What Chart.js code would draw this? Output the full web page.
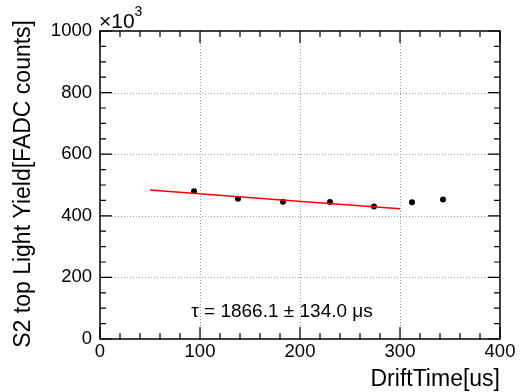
<!DOCTYPE html>
<html>
<head>
<meta charset="utf-8">
<script src="https://cdn.jsdelivr.net/npm/chart.js@4"></script>
<style>
  html, body { margin: 0; padding: 0; background: #fff; }
  #wrap { width: 520px; height: 392px; }
</style>
</head>
<body>
<div id="wrap"><canvas id="c" width="520" height="392"></canvas></div>
<script>
// measured points (DriftTime [us], light yield / 1e3)
const driftTime = [94, 138, 183, 230, 274, 312, 343];
const lightYield = [480, 455, 446, 445, 430, 444, 453];

// exponential fit drawn over 50..300 us
const fitX = [50, 175, 300];
const fitY = [484, 453, 423];

const xTicks = [0, 100, 200, 300, 400];
const yTicks = [0, 200, 400, 600, 800, 1000];
const xMinorStep = 20;
const yMinorStep = 50;

const FONT = '"Liberation Sans", Arial, sans-serif';

const rootFrame = {
    id: 'rootFrame',
    beforeDatasetsDraw(chart) {
        const { ctx, chartArea: a, scales: { x, y } } = chart;
        ctx.save();
        // dotted grid
        ctx.strokeStyle = '#9a9a9a';
        ctx.lineWidth = 1;
        ctx.setLineDash([1, 2]);
        xTicks.slice(1, -1).forEach(v => {
            const px = Math.round(x.getPixelForValue(v)) + 0.5;
            ctx.beginPath(); ctx.moveTo(px, a.top); ctx.lineTo(px, a.bottom); ctx.stroke();
        });
        yTicks.slice(1, -1).forEach(v => {
            const py = Math.round(y.getPixelForValue(v)) + 0.5;
            ctx.beginPath(); ctx.moveTo(a.left, py); ctx.lineTo(a.right, py); ctx.stroke();
        });
        ctx.restore();
    },
    afterDraw(chart) {
        const { ctx, chartArea: a, scales: { x, y } } = chart;
        ctx.save();
        ctx.strokeStyle = '#000';
        ctx.lineWidth = 1.5;
        ctx.setLineDash([]);
        ctx.strokeRect(a.left, a.top, a.right - a.left, a.bottom - a.top);

        // inward ticks on all four sides
        ctx.lineWidth = 1.2;
        for (let v = x.min; v <= x.max; v += xMinorStep) {
            const px = x.getPixelForValue(v);
            const len = xTicks.includes(v) ? 12 : 6;
            ctx.beginPath();
            ctx.moveTo(px, a.bottom); ctx.lineTo(px, a.bottom - len);
            ctx.moveTo(px, a.top); ctx.lineTo(px, a.top + len);
            ctx.stroke();
        }
        for (let v = y.min; v <= y.max; v += yMinorStep) {
            const py = y.getPixelForValue(v);
            const len = yTicks.includes(v) ? 12 : 6;
            ctx.beginPath();
            ctx.moveTo(a.left, py); ctx.lineTo(a.left + len, py);
            ctx.moveTo(a.right, py); ctx.lineTo(a.right - len, py);
            ctx.stroke();
        }

        // tick labels
        ctx.fillStyle = '#000';
        ctx.font = '18.5px ' + FONT;
        ctx.textAlign = 'center';
        ctx.textBaseline = 'top';
        xTicks.forEach(v => ctx.fillText(String(v), x.getPixelForValue(v), a.bottom + 4));
        ctx.textAlign = 'right';
        ctx.textBaseline = 'middle';
        yTicks.forEach(v => ctx.fillText(String(v), a.left - 8, y.getPixelForValue(v)));

        // x10^3 multiplier
        ctx.textAlign = 'left';
        ctx.textBaseline = 'alphabetic';
        ctx.font = '21px ' + FONT;
        ctx.fillText('\u00d710', a.left - 1, a.top - 3);
        const w = ctx.measureText('\u00d710').width;
        ctx.font = '14px ' + FONT;
        ctx.fillText('3', a.left - 1 + w, a.top - 15);

        // axis titles
        ctx.font = '23px ' + FONT;
        ctx.textAlign = 'right';
        ctx.textBaseline = 'alphabetic';
        ctx.fillText('DriftTime[us]', a.right, 386);
        ctx.save();
        ctx.translate(30, 20);
        ctx.rotate(-Math.PI / 2);
        ctx.fillText('S2 top Light Yield[FADC counts]', 0, 0);
        ctx.restore();

        // fit result
        ctx.font = '19px ' + FONT;
        ctx.textAlign = 'center';
        ctx.textBaseline = 'middle';
        ctx.fillText('\u03c4 = 1866.1 \u00b1 134.0 \u03bcs', 282, 312);
        ctx.restore();
    }
};

new Chart(document.getElementById('c'), {
    type: 'scatter',
    data: {
        datasets: [
            {
                label: 'fit',
                data: fitX.map((v, i) => ({ x: v, y: fitY[i] })),
                showLine: true,
                borderColor: '#ff0000',
                borderWidth: 1.5,
                pointRadius: 0,
                fill: false
            },
            {
                label: 'data',
                data: driftTime.map((v, i) => ({ x: v, y: lightYield[i] })),
                backgroundColor: '#000',
                borderColor: '#000',
                pointRadius: 3,
                pointBorderWidth: 0
            }
        ]
    },
    options: {
        responsive: false,
        animation: false,
        layout: { padding: { left: 100, right: 20, top: 31, bottom: 53 } },
        plugins: { legend: { display: false }, tooltip: { enabled: false } },
        scales: {
            x: { type: 'linear', min: 0, max: 400, display: false },
            y: { type: 'linear', min: 0, max: 1000, display: false }
        }
    },
    plugins: [rootFrame]
});
</script>
</body>
</html>
